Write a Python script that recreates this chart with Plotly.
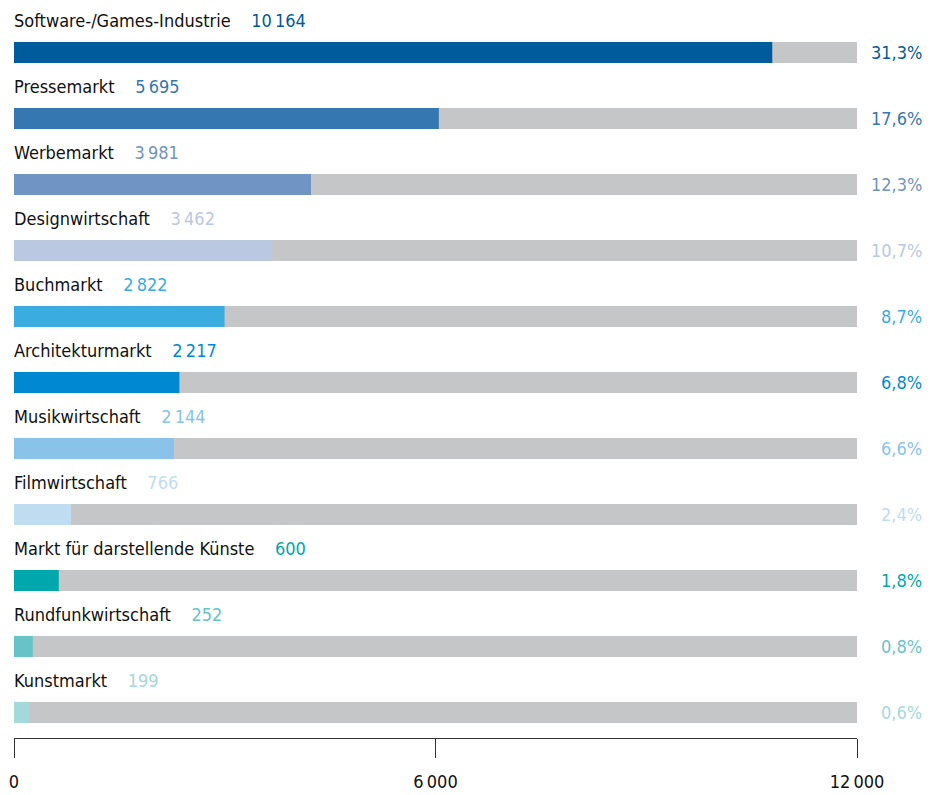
import plotly.graph_objects as go

categories = ["Software-/Games-Industrie", "Pressemarkt", "Werbemarkt", "Designwirtschaft",
              "Buchmarkt", "Architekturmarkt", "Musikwirtschaft", "Filmwirtschaft",
              "Markt für darstellende Künste", "Rundfunkwirtschaft", "Kunstmarkt"]
values = [10164, 5695, 3981, 3462, 2822, 2217, 2144, 766, 600, 252, 199]
shares = ["31,3%", "17,6%", "12,3%", "10,7%", "8,7%", "6,8%", "6,6%", "2,4%", "1,8%", "0,8%", "0,6%"]
colors = ["#005b9c", "#3577b0", "#7094c3", "#bac8e2", "#3aace0", "#0089d1",
          "#89c3ea", "#bfdcf1", "#00a7ad", "#67c3c8", "#a3d9da"]
track_max = 12000
tick_vals = [0, 6000, 12000]
tick_text = ["0", "6\u2009000", "12\u2009000"]

FONT = "DejaVu Sans Condensed, Liberation Sans Narrow, sans-serif"
ys = list(range(len(categories)))

fig = go.Figure()
fig.add_trace(go.Bar(
    x=[track_max] * len(categories), y=ys, orientation="h",
    marker=dict(color="#c5c6c8", line=dict(width=0)), width=0.32,
    hoverinfo="skip", showlegend=False, xaxis="x", yaxis="y"))
fig.add_trace(go.Bar(
    x=values, y=ys, orientation="h",
    marker=dict(color=colors, line=dict(width=0)), width=0.32,
    showlegend=False, xaxis="x2", yaxis="y"))

annotations = []
for i, (c, v, s, col) in enumerate(zip(categories, values, shares, colors)):
    vtxt = f"{v:,}".replace(",", "\u2009")
    annotations.append(dict(
        x=0, y=i - 0.49, xref="x", yref="y", xanchor="left", yanchor="middle",
        xshift=-2,
        text=f"{c}\u00a0\u00a0\u00a0\u00a0<span style='color:{col}'>{vtxt}</span>",
        showarrow=False, font=dict(family=FONT, size=18, color="#111111")))
    annotations.append(dict(
        x=track_max, y=i, xref="x", yref="y", xanchor="right", yanchor="middle",
        xshift=67, text=s, showarrow=False,
        font=dict(family=FONT, size=18, color=col)))

fig.update_layout(
    width=935, height=795,
    margin=dict(l=14, r=78, t=0, b=57),
    paper_bgcolor="white", plot_bgcolor="white",
    barmode="overlay",
    annotations=annotations,
    xaxis=dict(range=[0, track_max], tickvals=tick_vals, ticktext=tick_text,
               showgrid=False, zeroline=False, showline=True, linecolor="#333333",
               linewidth=1, ticks="outside", ticklen=19, tickcolor="#333333",
               ticklabelstandoff=8,
               tickfont=dict(family=FONT, size=18, color="#111111"), fixedrange=True),
    xaxis2=dict(range=[0, 11300], overlaying="x", visible=False, fixedrange=True),
    yaxis=dict(range=[10.386, -0.795], visible=False, fixedrange=True),
)

fig.write_html("out.html")
